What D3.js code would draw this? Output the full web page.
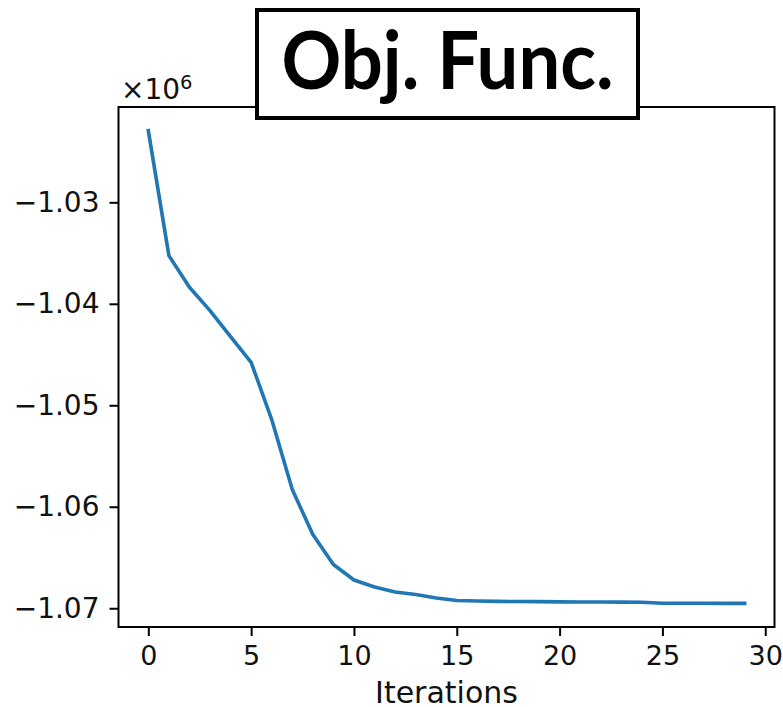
<!DOCTYPE html>
<html>
<head>
<meta charset="utf-8">
<script src="https://cdn.jsdelivr.net/npm/d3@7"></script>
<style>
  html, body { margin: 0; padding: 0; background: #fff; }
  svg { display: block; }
</style>
</head>
<body>
<svg id="chart" width="783" height="707"></svg>
<script>
// Objective function value per iteration
const iterations = d3.range(0, 30);
const objValues = [
  -1022936, -1035251, -1038374, -1040670, -1043232, -1045764,
  -1051409, -1058305, -1062739, -1065695, -1067222, -1067911,
  -1068404, -1068650, -1068995, -1069241, -1069291, -1069320,
  -1069340, -1069350, -1069370, -1069380, -1069390, -1069400,
  -1069410, -1069507, -1069510, -1069515, -1069518, -1069520
];
const xTicks = [0, 5, 10, 15, 20, 25, 30];
const yTicks = [-1030000, -1040000, -1050000, -1060000, -1070000];
const titleText = "Obj. Func.";
const xLabel = "Iterations";

const svg = d3.select("#chart");
const plot = { left: 118.5, right: 774.5, top: 107, bottom: 627 };
const fontFamily = "'DejaVu Sans', sans-serif";
const yTickFont = 28;
const xTickFont = 27;
const labelFont = 30;

// axis domains with 5% padding around the data
const xPad = (d3.max(iterations) - d3.min(iterations)) * 0.05;
const [yMin, yMax] = d3.extent(objValues);
const yPad = (yMax - yMin) * 0.05;

const x = d3.scaleLinear()
  .domain([d3.min(iterations) - xPad, d3.max(iterations) + xPad])
  .range([plot.left, plot.right]);
const y = d3.scaleLinear()
  .domain([yMin - yPad, yMax + yPad])
  .range([plot.bottom, plot.top]);

// data line
const line = d3.line()
  .x((d, i) => x(iterations[i]))
  .y(d => y(d));
svg.append("path")
  .datum(objValues)
  .attr("fill", "none")
  .attr("stroke", "#1f77b4")
  .attr("stroke-width", 3.6)
  .attr("stroke-linejoin", "round")
  .attr("stroke-linecap", "square")
  .attr("d", line);

// axes
const xAxis = d3.axisBottom(x).tickValues(xTicks).tickSize(9).tickPadding(10)
  .tickFormat(d3.format("d"));
const gx = svg.append("g")
  .attr("transform", `translate(0,${plot.bottom})`)
  .call(xAxis);

const yAxis = d3.axisLeft(y).tickValues(yTicks).tickSize(9).tickPadding(10)
  .tickFormat(d => "\u2212" + (Math.abs(d) / 1e6).toFixed(2));
const gy = svg.append("g")
  .attr("transform", `translate(${plot.left},0)`)
  .call(yAxis);

[[gx, xTickFont], [gy, yTickFont]].forEach(([g, fs]) => {
  g.select(".domain").remove();
  g.selectAll(".tick line").attr("stroke", "#000").attr("stroke-width", 2);
  g.selectAll(".tick text")
    .attr("fill", "#111")
    .style("font-family", fontFamily)
    .style("font-size", fs + "px");
});

// frame
svg.append("rect")
  .attr("x", plot.left).attr("y", plot.top)
  .attr("width", plot.right - plot.left)
  .attr("height", plot.bottom - plot.top)
  .attr("fill", "none")
  .attr("stroke", "#000")
  .attr("stroke-width", 2);

// axis label
svg.append("text")
  .attr("x", (plot.left + plot.right) / 2)
  .attr("y", 703)
  .attr("text-anchor", "middle")
  .attr("fill", "#111")
  .style("font-family", fontFamily)
  .style("font-size", labelFont + "px")
  .text(xLabel);

// offset multiplier
const offset = svg.append("text")
  .attr("x", 121)
  .attr("y", 99)
  .attr("fill", "#111")
  .style("font-family", fontFamily)
  .style("font-size", yTickFont + "px");
offset.append("tspan").text("\u00d710");
offset.append("tspan")
  .attr("dy", -10)
  .style("font-size", "19.5px")
  .text("6");

// boxed title
const box = { x: 257, y: 10, w: 381, h: 108 };
svg.append("rect")
  .attr("x", box.x).attr("y", box.y)
  .attr("width", box.w).attr("height", box.h)
  .attr("fill", "#fff")
  .attr("stroke", "#000")
  .attr("stroke-width", 4);
svg.append("text")
  .attr("x", box.x + box.w / 2)
  .attr("y", 89)
  .attr("text-anchor", "middle")
  .attr("fill", "#000")
  .attr("textLength", 332)
  .attr("lengthAdjust", "spacingAndGlyphs")
  .style("font-family", "Lato, 'Open Sans', sans-serif")
  .style("font-weight", "bold")
  .style("font-size", "81px")
  .text(titleText);
</script>
</body>
</html>
